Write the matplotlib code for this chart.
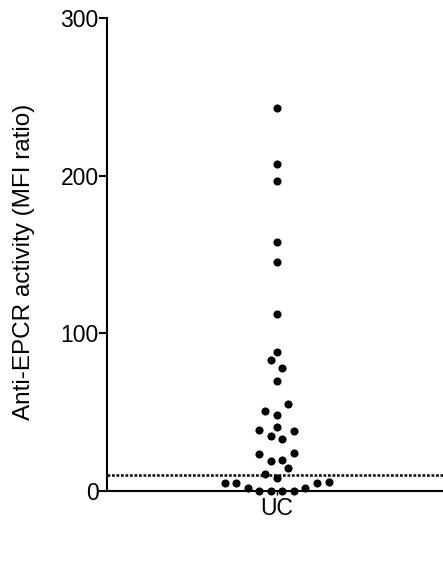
import matplotlib
matplotlib.use("Agg")
import matplotlib.pyplot as plt

# Data (MFI ratio, UC group)
group_label = ["UC"]
uc_values = [242.8, 207.4, 196.6, 158.3, 145.6, 112.4, 88.0, 83.0, 78.3, 69.8,
             55.2, 50.8, 48.5, 38.9, 40.4, 38.1, 34.7, 33.2, 23.3, 23.9,
             19.0, 19.7, 14.4, 11.0, 8.0, 5.3, 4.9, 1.9, 0.0, 0.0,
             0.0, 0.0, 1.7, 5.3, 5.5]
cutoff = 10
yticks = [0, 100, 200, 300]

# horizontal swarm slots (in dot half-widths) for each point, as in the figure
swarm_slots = [0, 0, 0, 0, 0, 0, 0, -1, 1, 0,
               2, -2, 0, -3, 0, 3, -1, 1, -3, 3,
               -1, 1, 2, -2, 0, -9, -7, -5, -3, -1,
               1, 3, 5, 7, 9]

plt.rcParams['font.family'] = ['Liberation Sans', 'DejaVu Sans']

fig = plt.figure(figsize=(4.43, 5.67), dpi=100)
ax = fig.add_axes([0.2415, 0.134, 0.7585, 0.8337])

slot_w = 0.0343
xs = [s * slot_w for s in swarm_slots]
ax.scatter(xs, uc_values, s=34, color="black", zorder=3, linewidths=0, clip_on=False)

ax.axhline(cutoff, color="black", lw=1.8, linestyle=(0, (1.1, 0.7)), zorder=2)

ax.set_xlim(-1.01, 0.99)
ax.set_ylim(0, 300)
ax.set_xticks([0])
ax.set_xticklabels(group_label)
ax.set_yticks(yticks)
ax.set_yticklabels([str(t) for t in yticks])
ax.set_ylabel("Anti-EPCR activity (MFI ratio)", fontsize=17.5)
ax.yaxis.set_label_coords(-0.215, 0.484)

for side in ["top", "right"]:
    ax.spines[side].set_visible(False)
for side in ["left", "bottom"]:
    ax.spines[side].set_linewidth(1.5)

ax.tick_params(axis="y", length=6, width=1.5, labelsize=16.5, pad=0)
ax.tick_params(axis="x", length=3, width=1.0, labelsize=16.5, pad=1)

plt.savefig("out.png", dpi=100)
